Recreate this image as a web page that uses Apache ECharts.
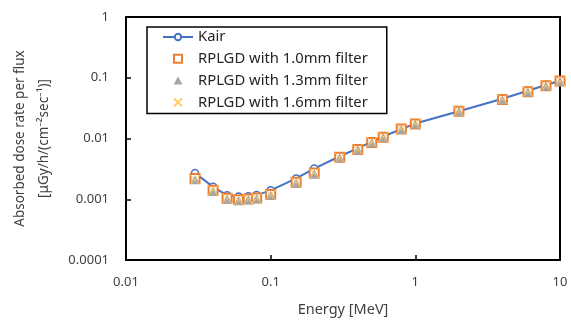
<!DOCTYPE html>
<html>
<head>
<meta charset="utf-8">
<script src="https://cdn.jsdelivr.net/npm/echarts@6/dist/echarts.min.js"></script>
<style>html,body{margin:0;padding:0;background:#fff;}#c{width:571px;height:322px;}</style>
</head>
<body>
<div id="c"></div>
<script>
var energies = [0.03,0.04,0.05,0.06,0.07,0.08,0.1,0.15,0.2,0.3,0.4,0.5,0.6,0.8,1,2,4,6,8,10];
var kair = [0.0027,0.0016,0.00116,0.00111,0.00112,0.00117,0.00140,0.0022,0.0032,0.0051,0.0069,0.0089,0.0108,0.0143,0.0176,0.028,0.045,0.061,0.076,0.089];
var rplgd10 = [0.0022,0.0014,0.00104,0.00098,0.00101,0.00105,0.0012,0.0019,0.0027,0.0049,0.0066,0.0086,0.0105,0.0143,0.0173,0.028,0.044,0.059,0.074,0.088];
var rplgd13 = [0.0021,0.00135,0.00101,0.00095,0.00098,0.00102,0.00116,0.00185,0.0026,0.0048,0.0065,0.0085,0.0104,0.0141,0.0172,0.0278,0.0435,0.058,0.073,0.087];
var rplgd16 = [0.0021,0.0014,0.00103,0.00097,0.001,0.00104,0.00118,0.0019,0.0027,0.0048,0.0066,0.0087,0.0106,0.0145,0.0175,0.028,0.0445,0.059,0.074,0.088];
var seriesNames = ['Kair','RPLGD with 1.0mm filter','RPLGD with 1.3mm filter','RPLGD with 1.6mm filter'];
var xTickLabels = ['0.01','0.1','1','10'];
var yTickLabels = ['0.0001','0.001','0.01','0.1','1'];

function pairs(vals){ return energies.map(function(e,i){ return [e, vals[i]]; }); }

var font = 'Noto Sans';
var chart = echarts.init(document.getElementById('c'));
chart.setOption({
  animation: false,
  textStyle: {fontFamily: font},
  grid: {left:125, right:11, top:17, bottom:58, show:true, borderColor:'#000', borderWidth:2, backgroundColor:'transparent'},
  legend: {
    orient:'vertical', left:147, top:27,
    padding:[2,19,3,15],
    itemWidth:30, itemHeight:8, itemGap:5.8,
    symbolKeepAspect:true,
    borderColor:'#000', borderWidth:1.5,
    textStyle:{fontFamily:font, fontSize:14.8, color:'#262626', lineHeight:16},
    data: seriesNames
  },
  xAxis: {
    type:'log', logBase:10, min:0.01, max:10,
    name:'Energy [MeV]', nameLocation:'middle', nameGap:42,
    nameTextStyle:{fontFamily:font, fontSize:14.5, color:'#404040'},
    axisLine:{lineStyle:{color:'#000', width:2}},
    axisTick:{inside:true, length:5, lineStyle:{color:'#000', width:1.5}},
    axisLabel:{fontFamily:font, fontSize:13, color:'#404040', margin:16,
      formatter:function(v){ return xTickLabels[Math.round(Math.log10(v))+2]; }},
    splitLine:{show:false}, minorTick:{show:false}
  },
  yAxis: {
    type:'log', logBase:10, min:0.0001, max:1,
    name:'Absorbed dose rate per flux\n[μGy/h/(cm⁻²sec⁻¹)]', nameLocation:'middle', nameGap:70, nameRotate:90,
    nameTextStyle:{fontFamily:font, fontSize:13.5, color:'#404040', lineHeight:24, align:'center'},
    axisLine:{lineStyle:{color:'#000', width:2}},
    axisTick:{inside:true, length:5, lineStyle:{color:'#000', width:1.5}},
    axisLabel:{fontFamily:font, fontSize:13, color:'#404040', margin:17,
      formatter:function(v){ return yTickLabels[Math.round(Math.log10(v))+4]; }},
    splitLine:{show:false}, minorTick:{show:false}
  },
  series: [
    {name:seriesNames[0], type:'line', data:pairs(kair), symbol:'circle', symbolSize:7, showSymbol:true,
     lineStyle:{color:'#4472C4', width:2}, itemStyle:{color:'#fff', borderColor:'#4472C4', borderWidth:1.5}, z:2},
    {name:seriesNames[1], type:'scatter', data:pairs(rplgd10), symbol:'path://M0 0H10V10H0Z', symbolSize:9, symbolKeepAspect:true,
     itemStyle:{color:'#fff', borderColor:'#ED7D31', borderWidth:2, opacity:1}, z:3},
    {name:seriesNames[2], type:'scatter', data:pairs(rplgd13), symbol:'path://M5 0L10 9H0Z', symbolSize:10, symbolKeepAspect:true,
     itemStyle:{color:'#A5A5A5', opacity:1}, z:4},
    {name:seriesNames[3], type:'scatter', data:pairs(rplgd16), symbol:'path://M0 0L10 10M10 0L0 10', symbolSize:10, symbolKeepAspect:true,
     itemStyle:{color:'none', borderColor:'#FFCB5A', borderWidth:1, opacity:1}, z:5}
  ]
});
</script>
</body>
</html>
